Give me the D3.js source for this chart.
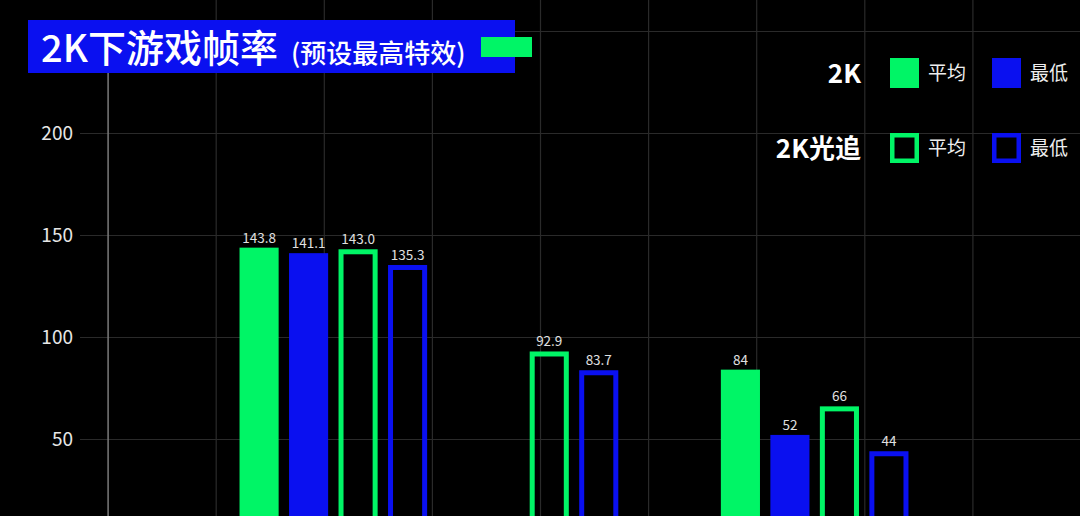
<!DOCTYPE html>
<html>
<head>
<meta charset="utf-8">
<script src="https://cdn.jsdelivr.net/npm/d3@7"></script>
<style>
    body { margin: 0; background: #000; }
    svg { display: block; font-family: "Noto Sans CJK SC", "Noto Sans", sans-serif; }
</style>
</head>
<body>
<svg id="chart" width="1080" height="516"></svg>
<script>
const W = 1080;
const H = 516;
const GREEN = '#00f566';
const BLUE = '#0a10f0';
const PITCH = 49.5;
const STROKE = 5;

// data
const games = ['游戏一', '游戏二', '游戏三'];
const avg2K = [143.8, null, 84];
const min2K = [141.1, null, 52];
const avgRT = [143.0, 92.9, 66];
const minRT = [135.3, 83.7, 44];
const valueFormats = ['.1f', '.1f', 'd'];
const yTicks = [50, 100, 150, 200, 250];

const series = [
    { key: 'avg2K', values: avg2K, color: GREEN, solid: true },
    { key: 'min2K', values: min2K, color: BLUE, solid: true },
    { key: 'avgRT', values: avgRT, color: GREEN, solid: false },
    { key: 'minRT', values: minRT, color: BLUE, solid: false }
];

const svg = d3.select('#chart');

svg.append('rect')
    .attr('width', W)
    .attr('height', H)
    .attr('fill', '#000');

const y = d3.scaleLinear()
    .domain([0, 250])
    .range([541, 31]);

const x0 = d3.scaleBand()
    .domain(games)
    .range([213, 935]);

// vertical grid
const gx = d3.scaleLinear().domain([0, 10]).range([0, 1081]);
svg.append('g')
    .selectAll('line')
    .data(d3.range(2, 10))
    .enter()
    .append('line')
    .attr('x1', d => gx(d))
    .attr('x2', d => gx(d))
    .attr('y1', 0)
    .attr('y2', H)
    .attr('stroke', '#2a2a2a')
    .attr('stroke-width', 1.2);

// horizontal grid + tick labels (250 sits under the title box)
const yAxis = d3.axisLeft(y)
    .tickValues(yTicks)
    .tickFormat(d => d === 250 ? '' : d)
    .tickSize(-(W - 80))
    .tickPadding(7);

const yg = svg.append('g')
    .attr('transform', 'translate(80,0)')
    .call(yAxis);
yg.select('.domain').remove();
yg.selectAll('.tick line')
    .attr('stroke', '#2a2a2a')
    .attr('stroke-width', 1.2);
yg.selectAll('.tick text')
    .attr('fill', '#e6e6e6')
    .attr('font-size', 19)
    .attr('font-family', '"Noto Sans CJK SC", sans-serif');

svg.append('line')
    .attr('x1', gx(1))
    .attr('x2', gx(1))
    .attr('y1', y(250))
    .attr('y2', H)
    .attr('stroke', '#7a7a7a')
    .attr('stroke-width', 1.5);

// bars
const bars = [];
games.forEach((g, i) => {
    const present = series.filter(s => s.values[i] != null);
    const x1 = d3.scaleBand()
        .domain(present.map(s => s.key))
        .range([-present.length * PITCH / 2, present.length * PITCH / 2])
        .paddingInner(0.21)
        .paddingOuter(0.105);
    present.forEach(s => {
        bars.push({
            game: g,
            s: s,
            value: s.values[i],
            fmt: valueFormats[i],
            x: x0(g) + x0.bandwidth() / 2 + x1(s.key),
            w: x1.bandwidth()
        });
    });
});

const barG = svg.append('g');

barG.selectAll('rect')
    .data(bars)
    .enter()
    .append('rect')
    .attr('x', d => d.s.solid ? d.x : d.x + STROKE / 2)
    .attr('width', d => d.s.solid ? d.w : d.w - STROKE)
    .attr('y', d => d.s.solid ? y(d.value) : y(d.value) + STROKE / 2)
    .attr('height', d => y(0) - y(d.value))
    .attr('fill', d => d.s.solid ? d.s.color : 'none')
    .attr('stroke', d => d.s.solid ? 'none' : d.s.color)
    .attr('stroke-width', STROKE);

barG.selectAll('text')
    .data(bars)
    .enter()
    .append('text')
    .attr('x', d => d.x + d.w / 2)
    .attr('y', d => y(d.value) - 5)
    .attr('text-anchor', 'middle')
    .attr('fill', '#e0e0e0')
    .attr('font-size', 13.5)
    .text(d => d3.format(d.fmt)(d.value));

// title
svg.append('rect')
    .attr('x', 28)
    .attr('y', 20)
    .attr('width', 487)
    .attr('height', 53)
    .attr('fill', BLUE);

svg.append('text')
    .attr('x', 41)
    .attr('y', 62)
    .attr('fill', '#fff')
    .attr('font-size', 38)
    .attr('font-weight', 500)
    .text('2K下游戏帧率');

svg.append('text')
    .attr('x', 291)
    .attr('y', 63)
    .attr('fill', '#fff')
    .attr('font-size', 26)
    .attr('font-weight', 500)
    .text('(预设最高特效)');

svg.append('rect')
    .attr('x', 481)
    .attr('y', 37)
    .attr('width', 51)
    .attr('height', 20)
    .attr('fill', GREEN);

// legend
const legendRows = [
    { name: '2K', solid: true, y: 73 },
    { name: '2K光追', solid: false, y: 148 }
];
const legendItems = [
    { name: '平均', color: GREEN, x: 890 },
    { name: '最低', color: BLUE, x: 992 }
];

legendRows.forEach(r => {
    svg.append('text')
        .attr('x', 861)
        .attr('y', r.y + 10)
        .attr('text-anchor', 'end')
        .attr('fill', '#fff')
        .attr('font-size', 26)
        .attr('font-weight', 700)
        .text(r.name);

    legendItems.forEach(it => {
        svg.append('rect')
            .attr('x', r.solid ? it.x : it.x + 2.25)
            .attr('y', r.solid ? r.y - 15 : r.y - 12.75)
            .attr('width', r.solid ? 29 : 24.5)
            .attr('height', r.solid ? 30 : 25.5)
            .attr('fill', r.solid ? it.color : 'none')
            .attr('stroke', r.solid ? 'none' : it.color)
            .attr('stroke-width', 4.5);

        svg.append('text')
            .attr('x', it.x + 38)
            .attr('y', r.y + 7)
            .attr('fill', '#eee')
            .attr('font-size', 19)
            .text(it.name);
    });
});
</script>
</body>
</html>
